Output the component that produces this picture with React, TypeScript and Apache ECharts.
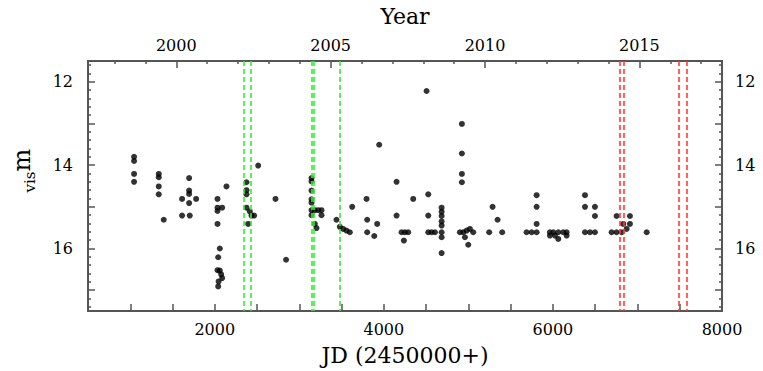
import React, { useEffect, useRef } from "react";
import * as echarts from "echarts";

// Observations: JD - 2450000 and visual magnitude
const jd = [
  1045, 1045, 1045, 1045,
  1337, 1337, 1337, 1337, 1396,
  1696, 1696, 1696, 1613, 1696, 1779, 1613, 1704,
  2032, 2032, 2087, 2032, 2032, 2059, 2040, 2032, 2059, 2075, 2087, 2045, 2040,
  2138,
  2375, 2375, 2375, 2375, 2414, 2434, 2465, 2395,
  2513, 2718, 2843,
  3144, 3144, 3144, 3144, 3144, 3144, 3183, 3222, 3262, 3144, 3262, 3183, 3203,
  3439, 3479, 3518, 3558, 3597, 3625,
  3945, 3795, 3803, 3803, 3886, 3921,
  4150, 4150, 4209, 4249, 4288, 4237,
  4347, 4505, 4525, 4525, 4525, 4564, 4604,
  4683, 4683, 4683, 4683, 4683, 4683, 4683, 4683,
  4923, 4923, 4923, 4923, 4899, 4939, 4979, 5018, 5057, 4959, 4998,
  5286, 5345, 5246, 5400,
  5688, 5748, 5807, 5807, 5807, 5807,
  5964, 6004, 6063, 6122, 6162, 5964, 6024, 6063, 6162,
  6379, 6379, 6497, 6497, 6379, 6438, 6497,
  6694, 6753, 6813, 6753, 6832, 6872, 6911, 6911, 7109,
];
const mag = [
  13.8, 13.9, 14.21, 14.4,
  14.21, 14.29, 14.51, 14.7, 15.31,
  14.31, 14.61, 14.69, 14.81, 14.91, 14.81, 15.21, 15.21,
  14.81, 15.02, 15.02, 15.1, 15.41, 16.0, 16.21, 16.52, 16.53, 16.62, 16.71, 16.79, 16.91,
  14.51,
  14.41, 14.6, 14.7, 15.02, 15.11, 15.21, 15.21, 15.41,
  14.01, 14.81, 16.27,
  14.31, 14.39, 14.61, 14.82, 14.9, 15.08, 15.08, 15.08, 15.08, 15.2, 15.2, 15.41, 15.51,
  15.31, 15.48, 15.53, 15.57, 15.61, 15.0,
  13.51, 14.81, 15.31, 15.61, 15.7, 15.41,
  14.4, 15.21, 15.61, 15.61, 15.61, 15.81,
  14.81, 12.22, 14.7, 15.21, 15.61, 15.61, 15.61,
  15.02, 15.12, 15.22, 15.35, 15.45, 15.61, 15.73, 16.11,
  13.01, 13.72, 14.21, 14.41, 15.61, 15.61, 15.57, 15.53, 15.61, 15.73, 15.91,
  15.0, 15.31, 15.61, 15.61,
  15.61, 15.61, 15.61, 14.72, 15.0, 15.41,
  15.61, 15.61, 15.61, 15.61, 15.61, 15.69, 15.69, 15.77, 15.69,
  14.72, 15.0, 15.0, 15.22, 15.61, 15.61, 15.61,
  15.61, 15.61, 15.61, 15.22, 15.41, 15.53, 15.22, 15.41, 15.61,
];

const greenLines = [2343, 2422, 3148, 3170, 3479];
const redLines = [6789, 6837, 7493, 7584];

const jdLabels = [2000, 4000, 6000, 8000];
const jdTicks = [1000, 1500, 2000, 2500, 3000, 3500, 4000, 4500, 5000, 5500, 6000, 6500, 7000, 7500];
const yearLabels = [2000, 2005, 2010, 2015];
const yearMinorTicks = [1998, 1999, 2001, 2002, 2003, 2004, 2006, 2007, 2008, 2009, 2011, 2012, 2013, 2014, 2016, 2017];
const magLabels = [12, 14, 16];
const magMajorTicks = [12, 13, 14, 15, 16, 17];

const JD_MIN = 500;
const JD_MAX = 8000;
const MAG_MIN = 11.5;
const MAG_MAX = 17.5;
const JD_Y2000 = 1544.5;
const toYear = (d: number) => 2000 + (d - JD_Y2000) / 365.25;

const FONT = "DejaVu Serif";
const AXIS_COLOR = "#555";

export default function App() {
  const ref = useRef<HTMLDivElement>(null);
  useEffect(() => {
    document.body.style.margin = "0";
    const chart = echarts.init(ref.current!, null, { renderer: "svg" });

    const magMinorTicks: number[] = [];
    for (let i = 0; i <= 30; i++) {
      const v = Math.round((MAG_MIN + 0.1 + i * 0.2) * 10) / 10;
      if (v > MAG_MIN && v < MAG_MAX && Math.abs(v - Math.round(v)) > 1e-6) magMinorTicks.push(v);
    }

    const plain = (v: number) => String(Math.round(v));
    const labelStyle = { fontFamily: FONT, fontSize: 16, color: "#000", formatter: plain };
    const hidden = { show: false };

    const yBase = (pos: "left" | "right", withLine: boolean, ticks: number[], len: number, labels: number[] | null) => ({
      type: "value",
      position: pos,
      inverse: true,
      min: MAG_MIN,
      max: MAG_MAX,
      splitLine: hidden,
      axisLine: withLine ? { show: true, onZero: false, lineStyle: { color: AXIS_COLOR, width: 2 } } : hidden,
      axisTick: { show: true, inside: true, length: len, customValues: ticks, lineStyle: { color: AXIS_COLOR, width: 1.5 } },
      axisLabel: labels
        ? { show: true, customValues: labels, margin: pos === "left" ? 15 : 13, ...labelStyle }
        : hidden,
    });

    const option: any = {
      animation: false,
      grid: { left: 88, right: 41, top: 58, bottom: 59 },
      xAxis: [
        {
          type: "value",
          position: "bottom",
          min: JD_MIN,
          max: JD_MAX,
          splitLine: hidden,
          axisLine: { show: true, onZero: false, lineStyle: { color: AXIS_COLOR, width: 2 } },
          axisTick: { show: true, inside: true, length: 7, customValues: jdTicks, lineStyle: { color: AXIS_COLOR, width: 1.5 } },
          axisLabel: { show: true, customValues: jdLabels, margin: 10, ...labelStyle },
          name: "JD (2450000+)",
          nameLocation: "middle",
          nameGap: 33,
          nameTextStyle: { fontFamily: FONT, fontSize: 22, color: "#000" },
        },
        {
          type: "value",
          position: "top",
          min: toYear(JD_MIN),
          max: toYear(JD_MAX),
          splitLine: hidden,
          axisLine: { show: true, onZero: false, lineStyle: { color: AXIS_COLOR, width: 2 } },
          axisTick: { show: true, inside: true, length: 7, customValues: yearLabels, lineStyle: { color: AXIS_COLOR, width: 1.5 } },
          axisLabel: { show: true, customValues: yearLabels, margin: 8, ...labelStyle },
          name: "Year",
          nameLocation: "middle",
          nameGap: 34,
          nameTextStyle: { fontFamily: FONT, fontSize: 22, color: "#000" },
        },
        {
          type: "value",
          position: "top",
          min: toYear(JD_MIN),
          max: toYear(JD_MAX),
          splitLine: hidden,
          axisLine: hidden,
          axisTick: { show: true, inside: true, length: 3, customValues: yearMinorTicks, lineStyle: { color: AXIS_COLOR, width: 1.5 } },
          axisLabel: hidden,
        },
      ],
      yAxis: [
        yBase("left", true, magMajorTicks, 7, magLabels),
        yBase("left", false, magMinorTicks, 3, null),
        yBase("right", true, magMajorTicks, 7, magLabels),
        yBase("right", false, magMinorTicks, 3, null),
      ],
      graphic: [
        {
          type: "text",
          x: 22,
          y: 160,
          rotation: Math.PI / 2,
          style: { text: "m", fontFamily: FONT, fontSize: 24, fill: "#000", align: "center", verticalAlign: "middle" },
        },
        {
          type: "text",
          x: 30,
          y: 182,
          rotation: Math.PI / 2,
          style: { text: "vis", fontFamily: FONT, fontSize: 15, fill: "#000", align: "center", verticalAlign: "middle" },
        },
      ],
      series: [
        {
          type: "scatter",
          xAxisIndex: 0,
          yAxisIndex: 0,
          data: [],
          z: 1,
          silent: true,
          markLine: {
            silent: true,
            symbol: ["none", "none"],
            label: { show: false },
            animation: false,
            data: [
              ...greenLines.map((v) => ({ xAxis: v, lineStyle: { color: "#3ee63e", type: [5, 3], width: 1.6 } })),
              ...redLines.map((v) => ({ xAxis: v, lineStyle: { color: "#ff3b3b", type: [5, 3], width: 1.6 } })),
            ],
          },
        },
        {
          type: "scatter",
          xAxisIndex: 0,
          yAxisIndex: 0,
          z: 3,
          symbol: "circle",
          symbolSize: 6,
          itemStyle: { color: "#000" },
          data: jd.map((d, i) => [d, mag[i]]),
        },
      ],
    };
    chart.setOption(option);
    return () => chart.dispose();
  }, []);
  return <div ref={ref} style={{ width: 763, height: 371 }} />;
}
